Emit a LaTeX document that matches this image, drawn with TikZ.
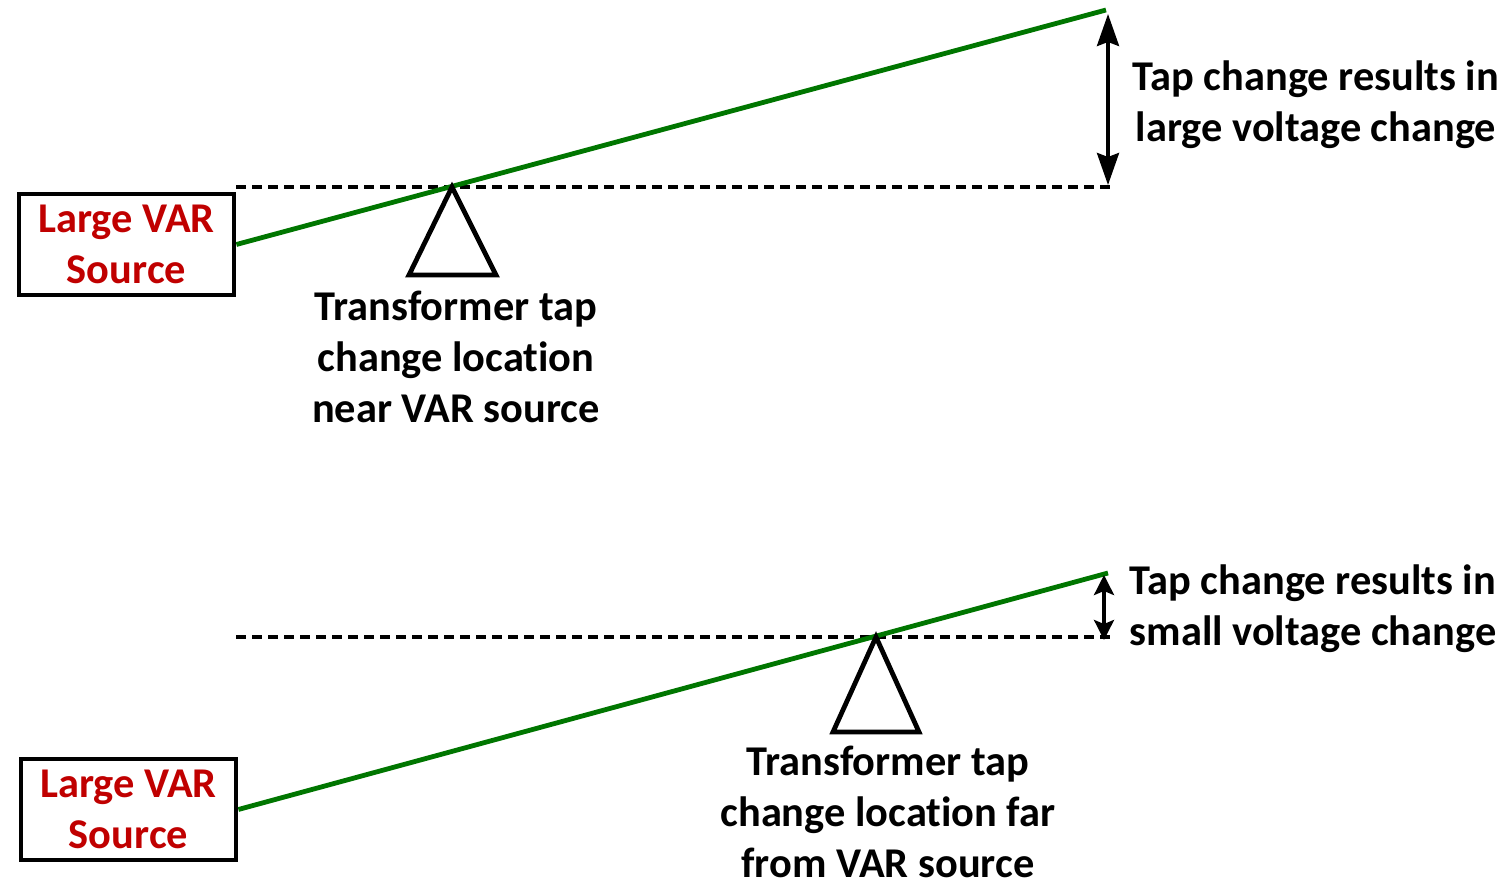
\documentclass[tikz,border=0pt]{standalone}
\usepackage{fontspec}
\setmainfont{Carlito}[Ligatures=NoCommon]
\usetikzlibrary{arrows.meta}
\definecolor{srcred}{RGB}{192,0,0}
\definecolor{tapgreen}{RGB}{0,118,0}

\tikzset{
  varbox/.style={draw, line width=2.4pt, minimum width=107.5pt, minimum height=50.5pt,
    inner sep=0pt, align=center, text=srcred, font=\labelfont},
  note/.style={align=center, inner sep=0pt, font=\labelfont},
  level/.style={line width=2.4pt, dash pattern=on 5pt off 3pt},
  slope/.style={tapgreen, line width=2.4pt},
  pivot/.style={line width=2.4pt, line join=miter},
  swing/.style={line width=1.8pt, {Stealth[length=16pt,width=11pt,inset=2pt]}-{Stealth[length=16pt,width=11pt,inset=2pt]}},
  smallswing/.style={line width=1.8pt, {Stealth[length=10pt,width=10pt,inset=2pt]}-{Stealth[length=10pt,width=10pt,inset=2pt]}}
}
\newcommand{\labelfont}{\fontsize{21.2}{25.5}\selectfont\bfseries}

\begin{document}
\begin{tikzpicture}[x=0.5pt,y=-0.5pt]
    \useasboundingbox (0,0) rectangle (1509,886);

    % Top: tap near the VAR source
    \node[varbox] (srcA) at (126.5,244.5) {Large VAR\\Source};
    \coordinate (tipA) at (1106,10);
    \coordinate (lvlA) at (1110,187);
    \coordinate (pivA) at (452,187);
    \draw[level] (srcA.north east |- lvlA) -- (lvlA);
    \draw[slope] (srcA.east) -- (tipA);
    \draw[pivot] (pivA) -- (409,275) -- (496,275) -- cycle;
    \node[note] (tapA) at (456,357) {Transformer tap\\change location\\near VAR source};

    \coordinate (arrA1) at (1108,14);
    \coordinate (arrA2) at (1108,185);
    \draw[swing] (arrA1) -- (arrA2);
    \node[note] (resA) at (1316,105) {Tap change results in\\large voltage change};

    % Bottom: tap far from the VAR source
    \node[varbox] (srcB) at (128.5,809.5) {Large VAR\\Source};
    \coordinate (tipB) at (1108,573);
    \coordinate (lvlB) at (1110,637);
    \coordinate (lvlB0) at (236,637);
    \coordinate (pivB) at (876,637);
    \draw[level] (lvlB0) -- (lvlB);
    \draw[slope] (srcB.east) -- (tipB);
    \draw[pivot] (pivB) -- (833,732) -- (919,732) -- cycle;
    \node[note] (tapB) at (888,812) {Transformer tap\\change location far\\from VAR source};

    \coordinate (arrB1) at (1104,575);
    \coordinate (arrB2) at (1104,640);
    \draw[smallswing] (arrB1) -- (arrB2);
    \node[note] (resB) at (1313,609) {Tap change results in\\small voltage change};

\end{tikzpicture}
\end{document}
